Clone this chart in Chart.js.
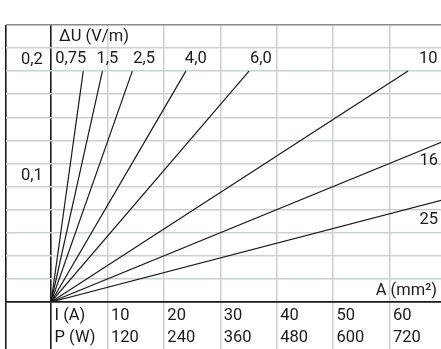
<!DOCTYPE html>
<html>
<head>
<meta charset="utf-8">
<script src="https://cdn.jsdelivr.net/npm/chart.js@4.4.0/dist/chart.umd.min.js"></script>
<style>
	html, body { margin: 0; padding: 0; background: #fff; }
</style>
</head>
<body>
<canvas id="dropChart" width="441" height="349"></canvas>
<script>
// cross-section of each line, A (mm²)
const sections = ['0,75', '1,5', '2,5', '4,0', '6,0', '10', '16', '25'];
// where each line ends: current I (A) and voltage drop ΔU (V/m)
const endCurrent = [5.7, 9.1, 14.4, 23.9, 35.1, 63.3, 70, 70];
const endDrop = [0.2, 0.2, 0.2, 0.2, 0.2, 0.2, 0.140, 0.089];

// table under the chart
const currentTicks = [10, 20, 30, 40, 50, 60];
const powerTicks = [120, 240, 360, 480, 600, 720];
// labelled values on the ΔU axis
const dropTicks = [0.1, 0.2];

const gridColor = '#cbd1ce';
const ink = '#1a1a1a';
const fontFamily = 'Roboto, "Open Sans", sans-serif';

Chart.defaults.font.family = fontFamily;
Chart.defaults.font.size = 16.5;
Chart.defaults.font.weight = '400';
Chart.defaults.color = ink;

// captions and line names written into the table cells
const tableText = {
	id: 'tableText',
	afterDatasetsDraw(chart, args, opts) {
		const { ctx, chartArea } = chart;
		const x = chart.scales.x;
		const y = chart.scales.y;
		ctx.save();
		ctx.font = '400 16.5px ' + fontFamily;
		ctx.fillStyle = ink;
		ctx.textBaseline = 'middle';

		ctx.textAlign = 'left';
		ctx.fillText('ΔU (V/m)', x.getPixelForValue(0) + 8, y.getPixelForValue(0.23));
		ctx.textAlign = 'right';
		ctx.fillText('A (mm²)', chartArea.right - 4, y.getPixelForValue(0.01));

		chart.data.datasets.forEach((ds, i) => {
			const end = ds.data[ds.data.length - 1];
			const px = x.getPixelForValue(end.x);
			if (px <= chartArea.right) {
				ctx.textAlign = 'left';
				ctx.fillText(ds.label, px + opts.shift[i], y.getPixelForValue(end.y) - 12);
			} else {
				// line runs out through the right edge
				const edge = y.getPixelForValue(end.y * x.max / end.x);
				ctx.textAlign = 'right';
				ctx.fillText(ds.label, chartArea.right - 3, edge + 19);
			}
		});
		ctx.restore();
	}
};

const isBlack = v => v === -8 || v === 0;

new Chart(document.getElementById('dropChart'), {
	type: 'scatter',
	data: {
		datasets: sections.map((s, i) => ({
			label: s,
			data: [{ x: 0, y: 0 }, { x: endCurrent[i], y: endDrop[i] }],
			showLine: true,
			borderColor: ink,
			borderWidth: 1.2,
			pointRadius: 0
		}))
	},
	options: {
		responsive: false,
		animation: false,
		devicePixelRatio: 1,
		layout: { padding: { left: 6, top: 9, right: 0, bottom: 0 } },
		plugins: {
			legend: { display: false },
			tooltip: { enabled: false },
			tableText: { shift: [-28, -6, 1, -1, 1, 11, 0, 0] }
		},
		scales: {
			x: {
				type: 'linear',
				min: -8,
				max: 69.15,
				afterBuildTicks: scale => {
					scale.ticks = [-8, 0, ...currentTicks].map(v => ({ value: v }));
				},
				afterFit: scale => { scale.height = 47; },
				border: { color: ink, width: 1.6 },
				grid: {
					color: c => isBlack(c.tick.value) ? ink : gridColor,
					tickColor: c => isBlack(c.tick.value) ? ink : gridColor,
					lineWidth: c => isBlack(c.tick.value) ? 1.6 : 1.5,
					tickWidth: c => isBlack(c.tick.value) ? 1.6 : 1.5,
					tickLength: 47
				},
				ticks: {
					autoSkip: false,
					maxRotation: 0,
					align: 'start',
					labelOffset: 3.5,
					padding: -44,
					font: { lineHeight: 1.32 },
					callback: v => {
						if (v === 0) return ['I (A)', 'P (W)'];
						const k = currentTicks.indexOf(v);
						return k < 0 ? '' : [String(v), String(powerTicks[k])];
					}
				}
			},
			y: {
				type: 'linear',
				min: 0,
				max: 0.24,
				afterFit: scale => { scale.width = 0; },
				border: { display: false },
				grid: {
					color: c => c.tick.value === 0 ? ink : (c.tick.value > 0.239 ? '#8a8a8a' : gridColor),
					lineWidth: c => c.tick.value === 0 ? 1.6 : 1.5,
					drawTicks: false
				},
				ticks: {
					stepSize: 0.02,
					autoSkip: false,
					mirror: true,
					crossAlign: 'near',
					padding: 15,
					labelOffset: -11,
					callback: v => dropTicks.some(t => Math.abs(t - v) < 1e-9) ? String(v).replace('.', ',') : ''
				}
			}
		}
	},
	plugins: [tableText]
});
</script>
</body>
</html>
